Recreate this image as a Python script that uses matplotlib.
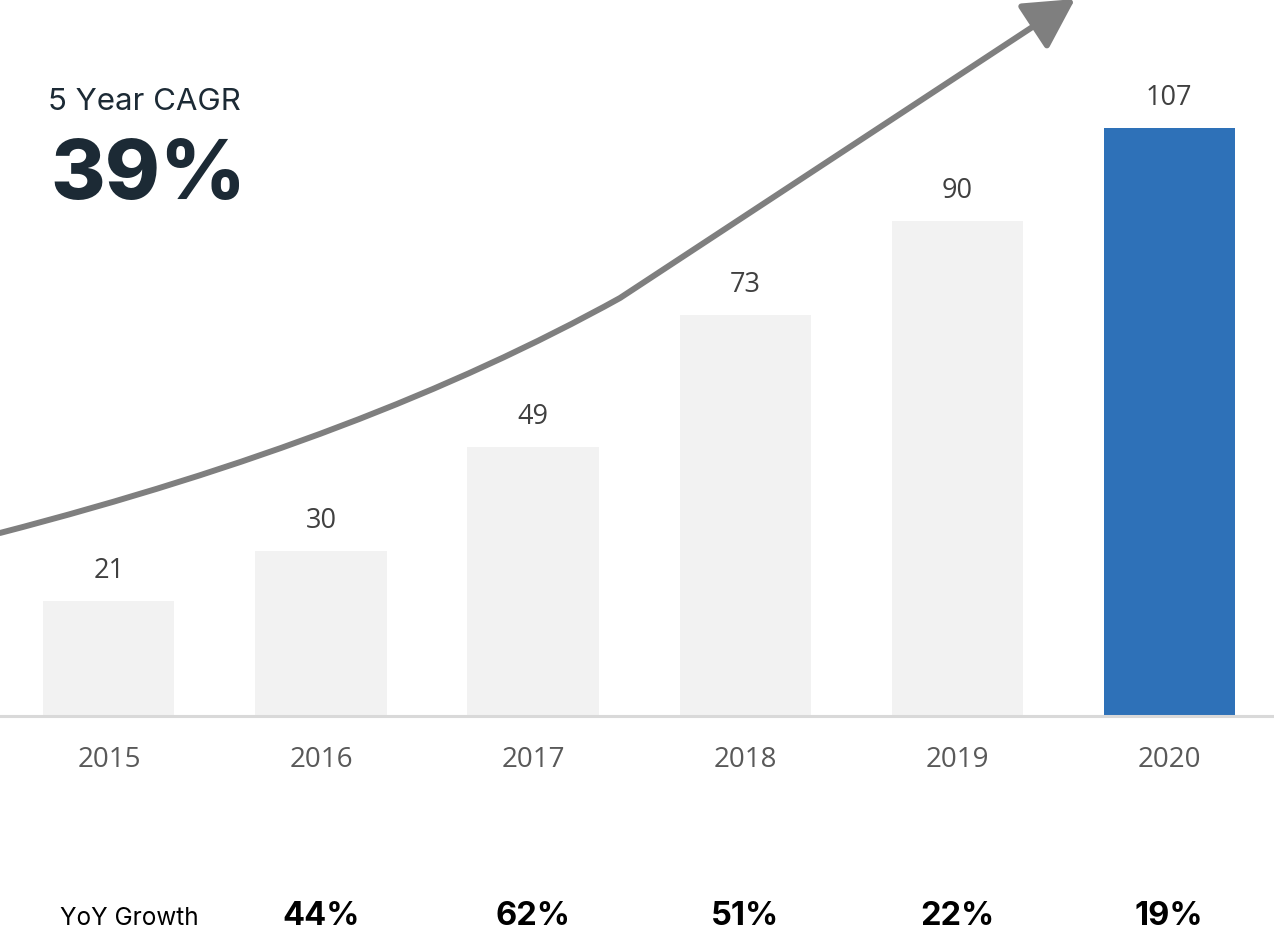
import matplotlib.pyplot as plt
from matplotlib.patches import FancyArrowPatch
from matplotlib.path import Path

years = ["2015", "2016", "2017", "2018", "2019", "2020"]
values = [21, 30, 49, 73, 90, 107]
yoy_growth = ["44%", "62%", "51%", "22%", "19%"]
cagr_label = "5 Year CAGR"
cagr_value = "39%"

GREY_BAR = "#f2f2f2"
BLUE_BAR = "#2e71b8"
DARK = "#1c2a35"

fig = plt.figure(figsize=(12.74, 9.31), dpi=100)
ax = fig.add_axes([0, 0, 1, 1])
ax.set_xlim(-0.514, 5.495)
ax.set_ylim(-39.13, 130.3)
ax.axis("off")

x = list(range(len(years)))
colors = [GREY_BAR] * (len(years) - 1) + [BLUE_BAR]
ax.bar(x, values, width=0.618, color=colors, zorder=2)
ax.axhline(0, color="#d9d9d9", linewidth=2.2, zorder=3)

for xi, v, yr in zip(x, values, years):
    ax.text(xi, v + 4.2, str(v), ha="center", va="baseline",
            fontsize=19.5, family="Open Sans", color="#404040")
    ax.text(xi, -9.3, yr, ha="center", va="baseline",
            fontsize=20, family="Open Sans", color="#595959")

# YoY growth row
ax.text(-0.231, -38.0, "YoY Growth", ha="left", va="baseline",
        fontsize=17.5, family="Inter", color="#000000")
for xi, g in zip(x[1:], yoy_growth):
    ax.text(xi, -38.0, g, ha="center", va="baseline",
            fontsize=23.5, family="Inter", fontweight="bold", color="#000000")

# CAGR callout
ax.text(-0.288, 110.3, cagr_label, ha="left", va="baseline",
        fontsize=22.5, family="Inter", color=DARK)
ax.text(-0.275, 94.0, cagr_value, ha="left", va="baseline",
        fontsize=60, family="Inter", fontweight="heavy", color=DARK)


# growth arrow, drawn in pixel space of the figure then mapped to data
def px(pxx, pxy):
    return ((pxx - 109) / 212, (716 - pxy) / 5.495)


verts = [px(0, 533), px(250, 468), px(450, 392), px(620, 298), px(1075, -1)]
codes = [Path.MOVETO, Path.CURVE4, Path.CURVE4, Path.CURVE4, Path.LINETO]
arrow = FancyArrowPatch(
    path=Path(verts, codes),
    arrowstyle="-|>,head_length=2.2,head_width=1.2",
    mutation_scale=14,
    linewidth=4.3,
    color="#7f7f7f",
    shrinkA=0,
    shrinkB=0,
    zorder=4,
    clip_on=False,
)
ax.add_patch(arrow)

fig.savefig("out.png", dpi=100, facecolor="white")
